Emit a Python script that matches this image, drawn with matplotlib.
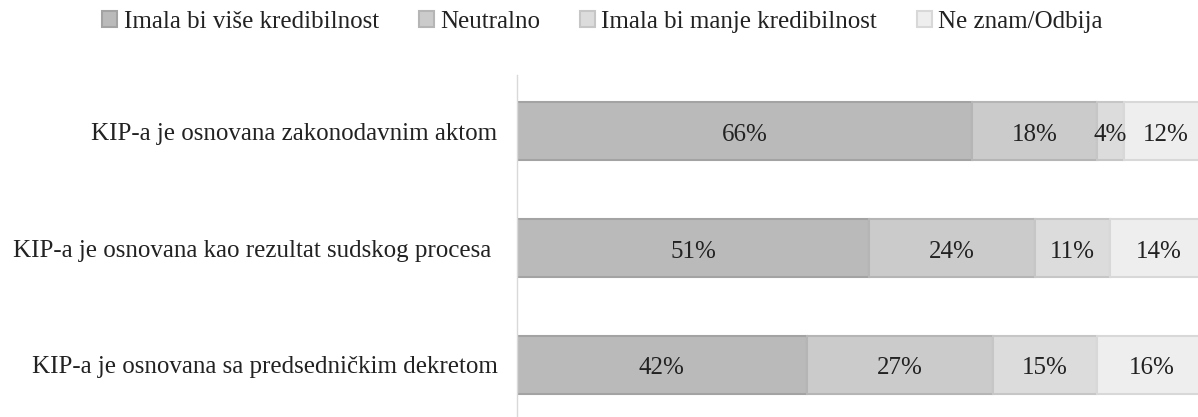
import matplotlib
matplotlib.use("Agg")
import matplotlib.pyplot as plt
import numpy as np

categories = ["KIP-a je osnovana sa predsedničkim dekretom",
              "KIP-a je osnovana kao rezultat sudskog procesa ",
              "KIP-a je osnovana zakonodavnim aktom"]
series_names = ["Imala bi više kredibilnost", "Neutralno",
                "Imala bi manje kredibilnost", "Ne znam/Odbija"]
more = [42, 51, 66]
neutral = [27, 24, 18]
less = [15, 11, 4]
dontknow = [16, 14, 12]
series = [more, neutral, less, dontknow]
colors = ["#bababa", "#cbcbcb", "#dcdcdc", "#eeeeee"]
edges = ["#a3a3a3", "#b5b5b5", "#c6c6c6", "#d8d8d8"]

plt.rcParams['font.family'] = ['Liberation Serif', 'DejaVu Serif']
FS = 18
W, H = 1198, 417
fig = plt.figure(figsize=(W/100, H/100), dpi=100)
x0, x1 = 517, 517 + 690
ytop, ybot = 75, 417
ax = fig.add_axes([x0/W, 1 - ybot/H, (x1-x0)/W, (ybot-ytop)/H])

y = np.arange(len(categories))
left = np.zeros(len(categories))
handles = []
for vals, name, c, e in zip(series, series_names, colors, edges):
    bars = ax.barh(y, vals, left=left, height=0.5, color=c, edgecolor=e,
                   linewidth=1.5, label=name)
    texts = ax.bar_label(bars, labels=[f"{v}%" for v in vals], label_type='center',
                         fontsize=FS, color='#222222')
    for t in texts:
        t.xyann = (0, -2.5)
    left += np.array(vals)
    handles.append(bars)

ax.set_xlim(0, 100)
ax.set_ylim(-0.445, 2.48)
ax.set_yticks(y)
ax.set_yticklabels(categories, fontsize=FS, color='#222222')
ax.tick_params(axis='y', length=0, pad=14)
ax.set_xticks([])
for s in ['top', 'right', 'bottom']:
    ax.spines[s].set_visible(False)
ax.spines['left'].set_color('#d9d9d9')
ax.spines['left'].set_linewidth(1)

leg = fig.legend(handles=handles, labels=series_names, loc='center',
                 bbox_to_anchor=(0.503, 1 - 22/H), ncol=4, frameon=False,
                 fontsize=FS, handlelength=0.6, handleheight=0.6,
                 handletextpad=0.25, columnspacing=1.6)
for t in leg.get_texts():
    t.set_color('#222222')

fig.savefig("out.png", dpi=100)
